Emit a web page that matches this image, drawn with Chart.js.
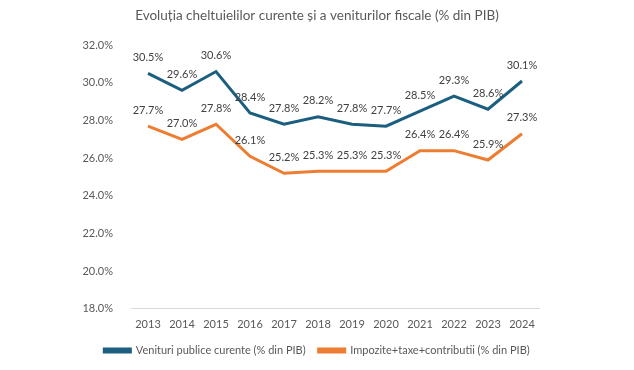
<!DOCTYPE html>
<html lang="ro">
<head>
    <meta charset="UTF-8" />
    <title>Evoluția cheltuielilor curente și a veniturilor fiscale</title>
    <script src="https://cdn.jsdelivr.net/npm/chart.js"></script>
    <style>
        html, body { margin: 0; padding: 0; background: #fff; }
        #wrap { width: 634px; height: 370px; }
    </style>
</head>
<body>
    <div id="wrap"><canvas id="chart"></canvas></div>
    <script>
        const years = ['2013', '2014', '2015', '2016', '2017', '2018', '2019', '2020', '2021', '2022', '2023', '2024'];
        const venituri = [30.5, 29.6, 30.6, 28.4, 27.8, 28.2, 27.8, 27.7, 28.5, 29.3, 28.6, 30.1];
        const impozite = [27.7, 27.0, 27.8, 26.1, 25.2, 25.3, 25.3, 25.3, 26.4, 26.4, 25.9, 27.3];

        const blue = '#1B5E80';
        const orange = '#ED7D31';
        const grey = '#595959';
        const font = 'Lato, "Noto Sans", sans-serif';

        // value labels above each point
        const pointLabels = {
            id: 'pointLabels',
            afterDatasetsDraw(chart) {
                const ctx = chart.ctx;
                ctx.save();
                ctx.font = '11px ' + font;
                ctx.fillStyle = '#404040';
                ctx.textAlign = 'center';
                ctx.textBaseline = 'middle';
                chart.data.datasets.forEach((ds, i) => {
                    chart.getDatasetMeta(i).data.forEach((pt, j) => {
                        ctx.fillText(ds.data[j].toFixed(1) + '%', pt.x, pt.y - 16);
                    });
                });
                ctx.restore();
            }
        };

        new Chart(document.getElementById('chart'), {
            type: 'line',
            data: {
                labels: years,
                datasets: [
                    {
                        label: 'Venituri publice curente (% din PIB)',
                        data: venituri,
                        borderColor: blue,
                        backgroundColor: blue,
                        borderWidth: 3,
                        pointRadius: 0,
                        tension: 0
                    },
                    {
                        label: 'Impozite+taxe+contributii (% din PIB)',
                        data: impozite,
                        borderColor: orange,
                        backgroundColor: orange,
                        borderWidth: 3,
                        pointRadius: 0,
                        tension: 0
                    }
                ]
            },
            options: {
                responsive: true,
                maintainAspectRatio: false,
                animation: false,
                layout: { padding: { left: 0, right: 0, top: 6, bottom: 4 } },
                plugins: {
                    title: {
                        display: true,
                        text: 'Evoluția cheltuielilor curente și a veniturilor fiscale (% din PIB)',
                        color: grey,
                        font: { family: font, size: 13.5, weight: 'normal' },
                        padding: { top: 2, bottom: 21 }
                    },
                    legend: {
                        position: 'bottom',
                        labels: {
                            color: grey,
                            font: { family: font, size: 11 },
                            boxWidth: 26,
                            boxHeight: 3,
                            padding: 13
                        }
                    },
                    tooltip: { enabled: false }
                },
                scales: {
                    x: {
                        offset: true,
                        grid: { display: false },
                        border: { color: '#D9D9D9' },
                        ticks: { color: grey, font: { family: font, size: 11 }, maxRotation: 0, padding: 1 }
                    },
                    y: {
                        min: 18,
                        max: 32,
                        grid: { display: false },
                        border: { display: false },
                        afterFit(scale) { scale.width = 131; },
                        ticks: {
                            stepSize: 2,
                            color: grey,
                            padding: 10,
                            font: { family: font, size: 11 },
                            callback: v => v.toFixed(1) + '%'
                        }
                    },
                    yRight: {
                        position: 'right',
                        grid: { display: false },
                        border: { display: false },
                        ticks: { display: false },
                        afterFit(scale) { scale.width = 95; }
                    }
                }
            },
            plugins: [pointLabels]
        });
    </script>
</body>
</html>
